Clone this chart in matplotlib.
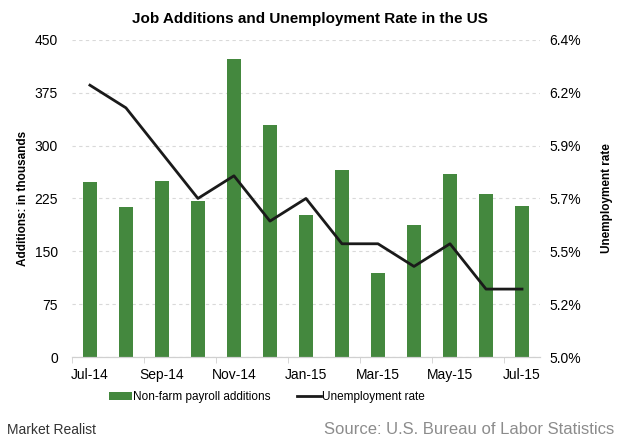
import matplotlib

matplotlib.use("Agg")
import matplotlib.pyplot as plt
from matplotlib.ticker import FuncFormatter, FixedLocator
import numpy as np

plt.rcParams['font.family'] = ['Liberation Sans', 'DejaVu Sans']

# Data
months = ["Jul-14", "Aug-14", "Sep-14", "Oct-14", "Nov-14", "Dec-14", "Jan-15",
          "Feb-15", "Mar-15", "Apr-15", "May-15", "Jun-15", "Jul-15"]
payroll = [248, 213, 250, 221, 423, 329, 201, 266, 119, 187, 260, 231, 215]
unemp = [6.2, 6.1, 5.9, 5.7, 5.8, 5.6, 5.7, 5.5, 5.5, 5.4, 5.5, 5.3, 5.3]

x = np.arange(len(months))

fig = plt.figure(figsize=(6.2, 4.43), dpi=100)
ax = fig.add_axes([0.116, 0.194, 0.755, 0.716])
ax2 = ax.twinx()

ax.bar(x, payroll, width=0.4, color="#44883e", zorder=2, label="Non-farm payroll additions")
ax2.plot(x, unemp, color="#1a1a1a", lw=2, zorder=3, label="Unemployment rate")

ax.set_xlim(-0.5, len(months) - 0.5)
ax.set_ylim(0, 450)
ax.set_yticks(np.arange(0, 451, 75))
ax2.set_ylim(5.0, 6.4)
ax2.set_yticks(np.linspace(5.0, 6.4, 7))
ax2.yaxis.set_major_formatter(FuncFormatter(lambda v, p: f"{v:.1f}%"))

ax.set_xticks(x[::2])
ax.set_xticklabels(months[::2])
ax.xaxis.set_minor_locator(FixedLocator(np.arange(-0.5, len(months), 2)))
ax.tick_params(axis="x", which="major", length=0, labelsize=10, pad=8)
ax.tick_params(axis="x", which="minor", length=4, color="#d0d0d0")
ax.tick_params(axis="y", length=0, labelsize=10, pad=10)
ax2.tick_params(axis="y", length=0, labelsize=10, pad=7)

ax.grid(axis="y", linestyle=(0, (3, 3)), color="#d9d9d9", lw=0.8, zorder=0)
for a in (ax, ax2):
    for s in ("left", "right", "top"):
        a.spines[s].set_visible(False)
    a.spines["bottom"].set_color("#d0d0d0")

ax.set_ylabel("Additions: in thousands", fontsize=8.5, fontweight="bold", labelpad=4)
ax2.set_ylabel("Unemployment rate", fontsize=8.5, fontweight="bold", labelpad=14)

fig.suptitle("Job Additions and Unemployment Rate in the US", x=0.5, y=0.972,
             fontsize=11, fontweight="bold")

h1, l1 = ax.get_legend_handles_labels()
h2, l2 = ax2.get_legend_handles_labels()
fig.legend(h1 + h2, l1 + l2, loc="center", bbox_to_anchor=(0.43, 0.103), ncol=2,
           frameon=False, fontsize=8.5, handlelength=2.0, handleheight=0.7,
           handletextpad=0.1, columnspacing=2.2)

fig.text(0.012, 0.02, "Market Realist", fontsize=10, color="#333333")
fig.text(0.99, 0.02, "Source: U.S. Bureau of Labor Statistics", fontsize=12,
         color="#8c8c8c", ha="right")

fig.savefig("out.png", dpi=100)
